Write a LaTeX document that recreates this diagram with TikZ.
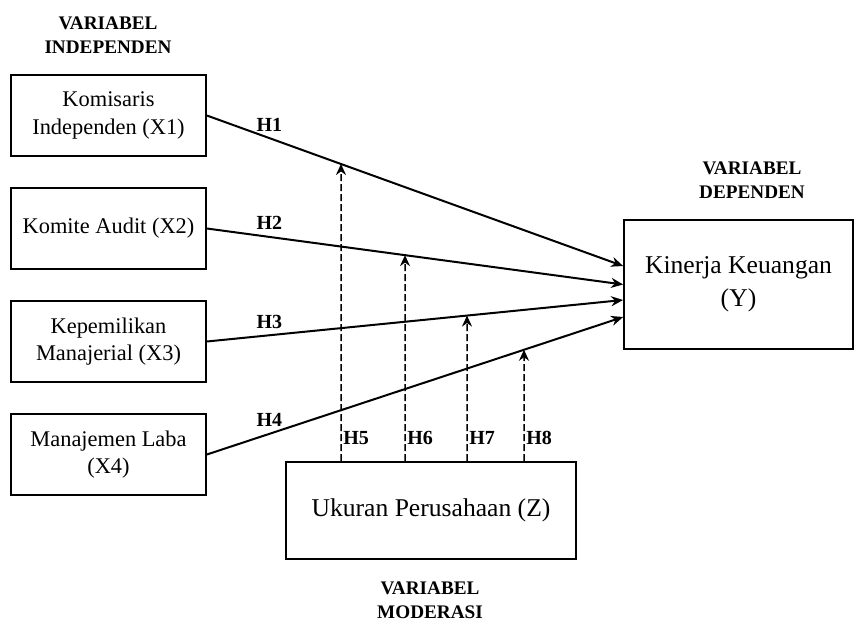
\documentclass[tikz,border=0pt]{standalone}
\usepackage{fontspec}
\setmainfont{Liberation Serif}
\usetikzlibrary{arrows.meta, positioning, intersections}

\begin{document}
\begin{tikzpicture}[
  x=0.5pt, y=-0.5pt,
  varbox/.style = {rectangle, draw, line width=0.85pt, align=center,
                   minimum width=97.5pt, minimum height=40.5pt, inner sep=2pt,
                   font=\fontsize{11.2}{13.8}\selectfont},
  bigbox/.style = {varbox, font=\fontsize{12.8}{16.5}\selectfont},
  head/.style   = {align=center, font=\fontsize{9.6}{12}\selectfont\bfseries},
  hyp/.style    = {inner sep=1pt, font=\fontsize{10}{12}\selectfont\bfseries},
  fwd/.style    = {-{Stealth[length=6pt, width=5pt]}, line width=1pt},
  mod/.style    = {-{Stealth[length=5.5pt, width=5pt, sep=0pt]}, line width=0.75pt,
                   dash pattern=on 3.5pt off 1.5pt}
]
\useasboundingbox (0,0) rectangle (856,621);

% variabel
\node[varbox] (x1) at (108.5,115.5) {Komisaris\\Independen (X1)};
\node[varbox] (x2) at (108.5,228.5) {Komite Audit (X2)};
\node[varbox] (x3) at (108.5,341.5) {Kepemilikan\\Manajerial (X3)};
\node[varbox] (x4) at (108.5,454.5) {Manajemen Laba\\(X4)};
\node[bigbox, minimum width=114.5pt, minimum height=64.5pt] (ky) at (738.5,284.5) {Kinerja Keuangan\\(Y)};
\node[bigbox, minimum width=145pt, minimum height=48.5pt] (uz) at (431,510.5) {Ukuran Perusahaan (Z)};

% judul
\node[head] (tindep) at (108,35)  {VARIABEL\\INDEPENDEN};
\node[head] (tdep)   at (752,180) {VARIABEL\\DEPENDEN};
\node[head] (tmod)   at (430,600) {VARIABEL\\MODERASI};

% ujung panah di Y
\coordinate (y1) at ([yshift=9.25pt]ky.west);
\coordinate (y2) at ([yshift=0pt]ky.west);
\coordinate (y3) at ([yshift=-7.75pt]ky.west);
\coordinate (y4) at ([yshift=-16.25pt]ky.west);

\draw[fwd, name path=p1] (x1.east) -- node[hyp, above=2pt, pos=0.15]{H1} (y1);
\draw[fwd, name path=p2] (x2.east) -- node[hyp, above=2pt, pos=0.15]{H2} (y2);
\draw[fwd, name path=p3] (x3.east) -- node[hyp, above=2pt, pos=0.15]{H3} (y3);
\draw[fwd, name path=p4] (x4.east) -- node[hyp, above=2pt, pos=0.15]{H4} (y4);

% moderasi
\coordinate (m5) at (341,0);
\coordinate (m6) at (405,0);
\coordinate (m7) at (467,0);
\coordinate (m8) at (524,0);

\path[name path=v5] (m5) -- (uz.north -| m5);
\path[name path=v6] (m6) -- (uz.north -| m6);
\path[name path=v7] (m7) -- (uz.north -| m7);
\path[name path=v8] (m8) -- (uz.north -| m8);

\draw[mod, name intersections={of=p1 and v5, by=i5}] (uz.north -| m5) -- (i5);
\draw[mod, name intersections={of=p2 and v6, by=i6}] (uz.north -| m6) -- (i6);
\draw[mod, name intersections={of=p3 and v7, by=i7}] (uz.north -| m7) -- (i7);
\draw[mod, name intersections={of=p4 and v8, by=i8}] (uz.north -| m8) -- (i8);

\node[hyp, anchor=west] (h5) at (341,438) {H5};
\node[hyp, anchor=west] (h6) at (405,438) {H6};
\node[hyp, anchor=west] (h7) at (467,438) {H7};
\node[hyp, anchor=west] (h8) at (524,438) {H8};
\end{tikzpicture}
\end{document}
